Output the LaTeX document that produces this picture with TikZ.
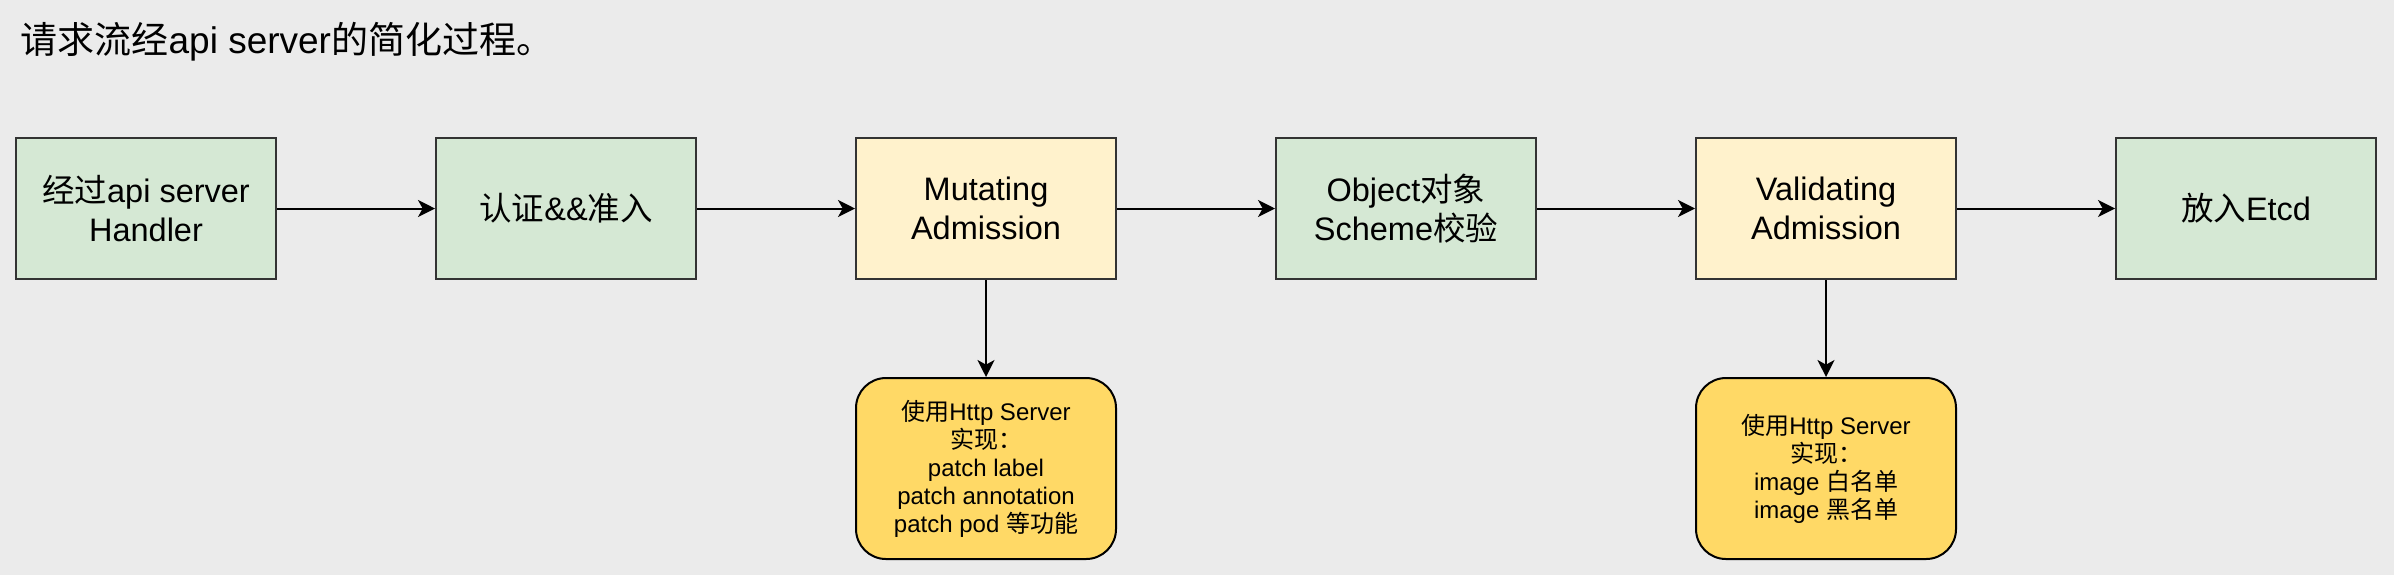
\documentclass[tikz,border=0pt]{standalone}
\usepackage{fontspec}
\setmainfont{Liberation Sans}
\newfontfamily\cjk{Noto Sans CJK SC}
\usetikzlibrary{arrows.meta}
\definecolor{bgc}{HTML}{EBEBEB}
\definecolor{greenf}{HTML}{D5E8D4}
\definecolor{yellowf}{HTML}{FFF2CC}
\definecolor{goldf}{HTML}{FFD966}
\definecolor{edge}{HTML}{333333}
\tikzset{
  stepbox/.style={draw=edge, line width=0.6pt, minimum width=78pt, minimum height=42.3pt,
    inner sep=0pt, align=center, font=\fontsize{9.75}{11.7}\selectfont},
  greenbox/.style={stepbox, fill=greenf},
  yellowbox/.style={stepbox, fill=yellowf},
  notebox/.style={draw=black, line width=0.6pt, fill=goldf, rounded corners=9pt,
    minimum width=78pt, minimum height=54.3pt, inner sep=0pt, align=center,
    font=\fontsize{7.2}{8.4}\selectfont},
  arr/.style={draw=black, line width=0.6pt, -{Stealth[length=5.1pt, width=5.1pt, inset=1.4pt]}}
}
\begin{document}
\begin{tikzpicture}[x=0.3pt, y=-0.3pt]
\fill[bgc] (0,0) rectangle (2394,575);
\useasboundingbox (0,0) rectangle (2394,575);

\node[anchor=base west, inner sep=0pt, font=\fontsize{11.1}{13}\selectfont] (title) at (20,53)
  {{\cjk 请求流经}api server{\cjk 的简化过程。}};

\node[greenbox]  (b1) at (146,208.5)  {{\cjk 经过}api server\\Handler};
\node[greenbox]  (b2) at (566,208.5)  {{\cjk 认证}\&\&{\cjk 准入}};
\node[yellowbox] (b3) at (986,208.5)  {Mutating\\Admission};
\node[greenbox]  (b4) at (1406,208.5) {Object{\cjk 对象}\\Scheme{\cjk 校验}};
\node[yellowbox] (b5) at (1826,208.5) {Validating\\Admission};
\node[greenbox]  (b6) at (2246,208.5) {{\cjk 放入}Etcd};

\node[notebox] (n1) at (986,468.5)
  {{\cjk 使用}Http Server\\{\cjk 实现：}\\patch label\\patch annotation\\patch pod {\cjk 等功能}};
\node[notebox] (n2) at (1826,468.5)
  {{\cjk 使用}Http Server\\{\cjk 实现：}\\image {\cjk 白名单}\\image {\cjk 黑名单}};

\draw[arr] (b1) -- (b2);
\draw[arr] (b2) -- (b3);
\draw[arr] (b3) -- (b4);
\draw[arr] (b4) -- (b5);
\draw[arr] (b5) -- (b6);
\draw[arr] (b3) -- (n1);
\draw[arr] (b5) -- (n2);
\end{tikzpicture}
\end{document}
